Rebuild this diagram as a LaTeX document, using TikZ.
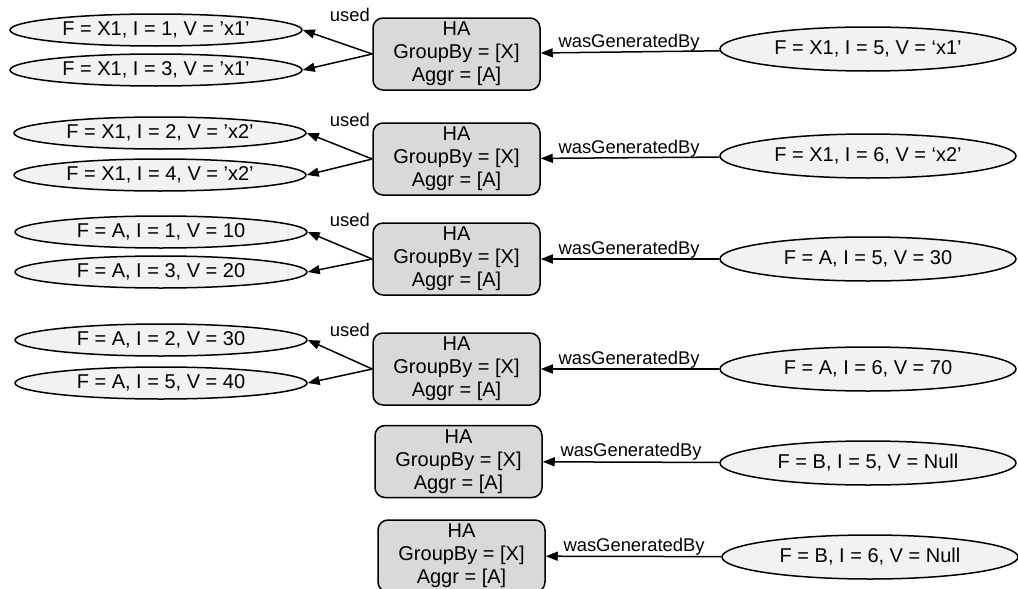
\documentclass[tikz,border=0pt]{standalone}
\usepackage{fontspec}
\setmainfont{Liberation Sans}
\usepackage{xcolor}
\usepackage{tikz}
\usetikzlibrary{shapes.geometric,arrows.meta}

\tikzset{
  val/.style={ellipse, draw, fill=gray!10, line width=0.75pt, inner sep=0pt,
    minimum width=146pt, minimum height=16pt},
  outval/.style={val, minimum width=148pt, minimum height=22pt},
  haop/.style={rectangle, draw, fill=gray!30, rounded corners=5pt, line width=0.75pt,
    minimum width=83.5pt, minimum height=36pt, inner sep=0pt, align=center},
  rel/.style={-{Triangle[length=6pt,width=4.5pt]}, line width=0.75pt},
  genlbl/.style={pos=1, anchor=base west, inner sep=0pt, xshift=8.5pt, yshift=2.5pt,
    font=\fontsize{9.2}{11}\selectfont},
  usedlbl/.style={anchor=base east, inner sep=0pt, font=\fontsize{9.2}{11}\selectfont}
}

\begin{document}
\begin{tikzpicture}[x=0.5pt, y=-0.5pt, font=\fontsize{10}{11.5}\selectfont]
  \useasboundingbox (0,0) rectangle (1018,589);
  % row 1
  \node[val] (v11) at (156,30) {F = X1, I = 1, V = 'x1'};
  \node[val] (v12) at (156,70) {F = X1, I = 3, V = 'x1'};
  \node[haop] (ha1) at (456.5,54) {HA\\GroupBy = [X]\\Aggr = [A]};
  \node[outval] (o1) at (868,49) {F = X1, I = 5, V = `x1'};
  \node[usedlbl] at ([xshift=-1pt,yshift=-2pt]ha1.north west) {used};
  \draw[rel] (ha1.west) -- (v11.east);
  \draw[rel] (ha1.west) -- (v12.east);
  \draw[rel] (o1) -- (ha1) node[genlbl] {wasGeneratedBy};
  % row 2
  \node[val] (v21) at (160,133) {F = X1, I = 2, V = 'x2'};
  \node[val] (v22) at (160,175) {F = X1, I = 4, V = 'x2'};
  \node[haop] (ha2) at (456.5,159) {HA\\GroupBy = [X]\\Aggr = [A]};
  \node[outval] (o2) at (868,156) {F = X1, I = 6, V = `x2'};
  \node[usedlbl] at ([xshift=-1pt,yshift=-2pt]ha2.north west) {used};
  \draw[rel] (ha2.west) -- (v21.east);
  \draw[rel] (ha2.west) -- (v22.east);
  \draw[rel] (o2) -- (ha2) node[genlbl] {wasGeneratedBy};
  % row 3
  \node[val] (v31) at (161,232) {F = A, I = 1, V = 10};
  \node[val] (v32) at (161,272) {F = A, I = 3, V = 20};
  \node[haop] (ha3) at (456.5,259) {HA\\GroupBy = [X]\\Aggr = [A]};
  \node[outval] (o3) at (868,259) {F = A, I = 5, V = 30};
  \node[usedlbl] at ([xshift=-1pt,yshift=-2pt]ha3.north west) {used};
  \draw[rel] (ha3.west) -- (v31.east);
  \draw[rel] (ha3.west) -- (v32.east);
  \draw[rel] (o3) -- (ha3) node[genlbl] {wasGeneratedBy};
  % row 4
  \node[val] (v41) at (161,340) {F = A, I = 2, V = 30};
  \node[val] (v42) at (161,383) {F = A, I = 5, V = 40};
  \node[haop] (ha4) at (456.5,369) {HA\\GroupBy = [X]\\Aggr = [A]};
  \node[outval] (o4) at (868,369) {F = A, I = 6, V = 70};
  \node[usedlbl] at ([xshift=-1pt,yshift=-2pt]ha4.north west) {used};
  \draw[rel] (ha4.west) -- (v41.east);
  \draw[rel] (ha4.west) -- (v42.east);
  \draw[rel] (o4) -- (ha4) node[genlbl] {wasGeneratedBy};
  % rows 5 and 6, nothing used
  \node[haop] (ha5) at (458.5,461.5) {HA\\GroupBy = [X]\\Aggr = [A]};
  \node[outval] (o5) at (868,463) {F = B, I = 5, V = Null};
  \draw[rel] (o5) -- (ha5) node[genlbl] {wasGeneratedBy};
  \node[haop] (ha6) at (461.5,556) {HA\\GroupBy = [X]\\Aggr = [A]};
  \node[outval] (o6) at (870,557) {F = B, I = 6, V = Null};
  \draw[rel] (o6) -- (ha6) node[genlbl] {wasGeneratedBy};
\end{tikzpicture}
\end{document}
